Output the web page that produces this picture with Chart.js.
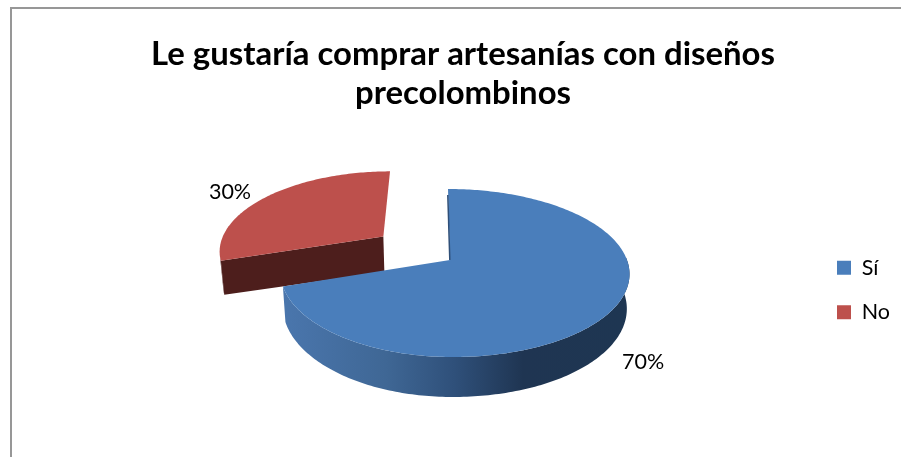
<!DOCTYPE html>
<html lang="es">
<head>
<meta charset="utf-8">
<title>Le gustaría comprar artesanías con diseños precolombinos</title>
<script src="https://cdn.jsdelivr.net/npm/chart.js@4"></script>
<style>
  html, body { margin: 0; padding: 0; background: #fff; overflow: hidden; width: 901px; height: 457px; }
  #frame {
    position: absolute; left: 10px; top: 7px; width: 904px; height: 450px;
    border-left: 2px solid #979797; border-top: 2px solid #979797;
  }
  canvas { display: block; }
</style>
</head>
<body>
<div id="frame"><canvas id="chart" width="902" height="448"></canvas></div>
<script>
// Survey answers, in percent
const categories = ['Sí', 'No'];
const shares = [70, 30];
const topColors = ['#4a7ebb', '#bd504c'];
const titleLines = ['Le gustaría comprar artesanías con diseños', 'precolombinos'];
// How far each slice is pulled out of the pie (percent of the radius)
const sliceOffsets = [0, 50.8];

// Camera used to lay the flat pie down as a tilted disc
const camera = {
  rightWidth: 177, leftWidth: 168, reach: 82, tilt: 0.155, shear: 0.028,
  depth: 33.8, baseShrink: 0.985
};
const LABEL_FONT = '21.5px Lato';
const LABEL_NUDGE = [[34, 49], [-38, -4]];
const CUT_FACE_OVERLAP = 3;

function project(cx, cy, u, v, base) {
  const w = 1 - camera.tilt * v;
  const Y = camera.reach * v / w;
  let X = (u >= 0 ? camera.rightWidth : camera.leftWidth) * u / w + camera.shear * Y;
  if (base) X *= camera.baseShrink;
  return [cx + X, cy + Y + (base ? camera.depth / w : 0)];
}

function tracePoints(ctx, pts) {
  ctx.beginPath();
  pts.forEach((p, i) => (i ? ctx.lineTo(p[0], p[1]) : ctx.moveTo(p[0], p[1])));
  ctx.closePath();
}

const tiltedPie = {
  id: 'tiltedPie',
  afterLayout(chart) {
    // Legend sits lower than the middle of the plot area
    const shift = chart.options.plugins.tiltedPie.legendShift;
    chart.legend.top += shift;
    chart.legend.bottom += shift;
    // Title stays centred on the whole canvas, not on the padded area
    chart.titleBlock.left = 0;
    chart.titleBlock.right = chart.width;
  },
  beforeDatasetsDraw(chart) {
    const ctx = chart.ctx;
    const arcs = chart.getDatasetMeta(0).data;
    const total = shares.reduce((a, b) => a + b, 0);
    // Far slice first so the big slice overlaps it
    [1, 0].forEach(i => {
      const arc = arcs[i];
      const a0 = arc.startAngle, a1 = arc.endAngle, mid = (a0 + a1) / 2;
      const frac = sliceOffsets[i] / 100;
      const ou = Math.cos(mid) * frac, ov = Math.sin(mid) * frac;
      const rim = (a, base) => project(arc.x, arc.y, ou + Math.cos(a), ov + Math.sin(a), base);
      const apex = base => project(arc.x, arc.y, ou, ov, base);
      const steps = Math.ceil((a1 - a0) / (Math.PI / 180));
      const angles = [];
      for (let s = 0; s <= steps; s++) angles.push(a0 + (a1 - a0) * s / steps);

      // Rounded outer wall on the near side of the disc
      const nearAngles = angles.filter(a => Math.sin(a) + ov > -0.05);
      if (nearAngles.length > 1) {
        const grad = ctx.createLinearGradient(arc.x - 167, 0, arc.x + 176, 0);
        if (i === 0) {
          grad.addColorStop(0, '#4a76ad');
          grad.addColorStop(0.3, '#3f6795');
          grad.addColorStop(0.5, '#2f507a');
          grad.addColorStop(0.7, '#1f3552');
          grad.addColorStop(1, '#1e3652');
        } else {
          grad.addColorStop(0, '#4d1e1c');
          grad.addColorStop(1, '#4d1e1c');
        }
        ctx.fillStyle = grad;
        tracePoints(ctx, nearAngles.map(a => rim(a, false))
          .concat(nearAngles.slice().reverse().map(a => rim(a, true))));
        ctx.fill();
      }

      // Cut face of the pulled-out slice
      if (frac > 0) {
        const foot = apex(true);
        ctx.fillStyle = '#4d1e1c';
        tracePoints(ctx, [apex(false), rim(a0, false), rim(a0, true), [foot[0], foot[1] + CUT_FACE_OVERLAP]]);
        ctx.fill();
      }

      // Top surface
      ctx.fillStyle = topColors[i];
      tracePoints(ctx, [apex(false)].concat(angles.map(a => rim(a, false))));
      ctx.fill();

      // Thin shaded edge where the big slice opens
      if (frac === 0) {
        const p = rim(a0, false), q = apex(false);
        ctx.strokeStyle = '#2f4f78';
        ctx.lineWidth = 1.5;
        ctx.beginPath();
        ctx.moveTo(p[0] - 0.2, p[1] + 6);
        ctx.lineTo(q[0] - 0.2, q[1]);
        ctx.stroke();
      }

      // Percentage label beside the slice
      const lp = project(arc.x, arc.y, ou + Math.cos(mid), ov + Math.sin(mid), false);
      ctx.fillStyle = '#000';
      ctx.font = LABEL_FONT;
      ctx.textAlign = 'center';
      ctx.textBaseline = 'middle';
      ctx.fillText(Math.round(shares[i] / total * 100) + '%', lp[0] + LABEL_NUDGE[i][0], lp[1] + LABEL_NUDGE[i][1]);
    });
    return false;
  }
};

new Chart(document.getElementById('chart'), {
  type: 'pie',
  data: {
    labels: categories,
    datasets: [{
      data: shares,
      backgroundColor: topColors,
      borderWidth: 0,
      offset: sliceOffsets
    }]
  },
  plugins: [tiltedPie],
  options: {
    responsive: false,
    animation: false,
    layout: { padding: { left: 74, right: 14, bottom: 70 } },
    plugins: {
      tiltedPie: { legendShift: 92 },
      tooltip: { enabled: false },
      title: {
        display: true,
        text: titleLines,
        color: '#000',
        font: { family: 'Lato', weight: 'bold', size: 32.9, lineHeight: 1.185 },
        padding: { top: 26, bottom: 20 }
      },
      legend: {
        position: 'right',
        labels: {
          boxWidth: 14,
          boxHeight: 14,
          padding: 23,
          color: '#000',
          font: { family: 'Lato', size: 21.5 }
        }
      }
    }
  }
});
</script>
</body>
</html>
